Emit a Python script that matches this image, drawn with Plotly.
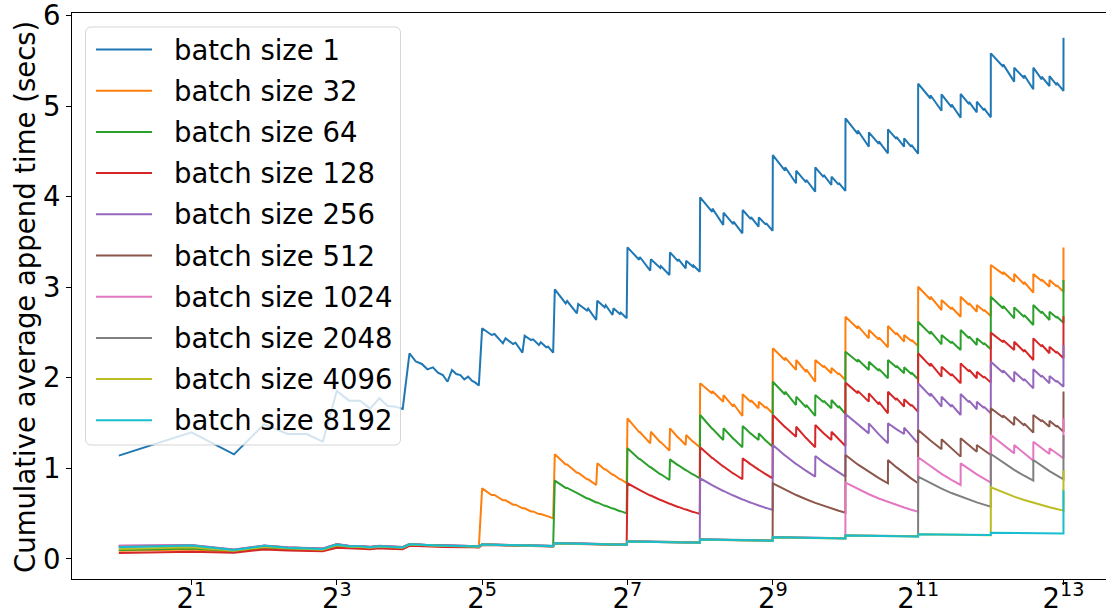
import plotly.graph_objects as go

# number of appends (x values)
n_appends = [1, 2, 3, 4, 5, 6, 7, 8, 9, 10, 11, 12, 13, 14, 15,
             16, 17, 18, 19, 20, 21, 22, 23, 24, 25, 26, 27, 28, 29, 30, 31,
             32, 35, 36, 39, 40, 43, 44, 47, 48, 51, 52, 55, 56, 59, 60, 63,
             64, 71, 72, 79, 80, 87, 88, 95, 96, 103, 104, 111, 112, 119, 120, 127,
             128, 143, 144, 159, 160, 175, 176, 191, 192, 207, 208, 223, 224, 239, 240, 255,
             256, 287, 288, 319, 320, 351, 352, 383, 384, 415, 416, 447, 448, 479, 480, 511,
             512, 575, 576, 639, 640, 703, 704, 767, 768, 831, 832, 895, 896, 959, 960, 1023,
             1024, 1151, 1152, 1279, 1280, 1407, 1408, 1535, 1536, 1663, 1664, 1791, 1792, 1919, 1920, 2047,
             2048, 2303, 2304, 2559, 2560, 2815, 2816, 3071, 3072, 3327, 3328, 3583, 3584, 3839, 3840, 4095,
             4096, 4607, 4608, 5119, 5120, 5631, 5632, 6143, 6144, 6655, 6656, 7167, 7168, 7679, 7680, 8191,
             8192]

batch_1 = [1.141, 1.398, 1.155, 1.487, 1.38, 1.38, 1.295, 1.855, 1.748, 1.748, 1.66, 1.774, 1.689, 1.682, 1.656,
           2.271, 2.18, 2.153, 2.094, 2.116, 2.057, 2.031, 1.957, 2.087, 2.042, 2.031, 1.983, 2.013, 1.968, 1.947, 1.914,
           2.547, 2.473, 2.484, 2.381, 2.436, 2.374, 2.388, 2.278, 2.465, 2.417, 2.425, 2.362, 2.392, 2.337, 2.344, 2.278,
           2.977, 2.822, 2.848, 2.712, 2.815, 2.742, 2.764, 2.639, 2.852, 2.779, 2.801, 2.694, 2.767, 2.705, 2.72, 2.657,
           3.441, 3.304, 3.334, 3.183, 3.309, 3.213, 3.233, 3.135, 3.386, 3.289, 3.31, 3.209, 3.293, 3.226, 3.241, 3.172,
           3.993, 3.831, 3.868, 3.687, 3.823, 3.698, 3.725, 3.596, 3.853, 3.752, 3.774, 3.669, 3.772, 3.691, 3.709, 3.624,
           4.46, 4.288, 4.325, 4.148, 4.287, 4.159, 4.187, 4.055, 4.324, 4.217, 4.24, 4.129, 4.221, 4.134, 4.153, 4.063,
           4.865, 4.693, 4.731, 4.552, 4.711, 4.583, 4.611, 4.479, 4.744, 4.638, 4.661, 4.552, 4.644, 4.551, 4.571, 4.475,
           5.248, 5.084, 5.12, 4.949, 5.13, 4.988, 5.019, 4.872, 5.134, 5.022, 5.046, 4.931, 5.049, 4.954, 4.975, 4.876,
           5.583, 5.435, 5.461, 5.27, 5.424, 5.307, 5.34, 5.186, 5.424, 5.296, 5.325, 5.222, 5.332, 5.233, 5.258, 5.167,
           5.755]

batch_32 = [0.09, 0.105, 0.08, 0.12, 0.105, 0.1, 0.09, 0.14, 0.125, 0.12, 0.115, 0.125, 0.12, 0.118, 0.115,
            0.15, 0.147, 0.145, 0.142, 0.143, 0.14, 0.138, 0.135, 0.138, 0.136, 0.135, 0.133, 0.134, 0.132, 0.131, 0.13,
            0.78, 0.707, 0.707, 0.648, 0.648, 0.599, 0.599, 0.559, 0.559, 0.525, 0.525, 0.496, 0.496, 0.471, 0.471, 0.449,
            1.156, 1.043, 1.043, 0.953, 0.953, 0.879, 0.879, 0.817, 1.056, 0.988, 0.988, 0.93, 0.93, 0.88, 0.88, 0.836,
            1.553, 1.401, 1.401, 1.277, 1.405, 1.29, 1.29, 1.196, 1.443, 1.342, 1.342, 1.259, 1.369, 1.294, 1.294, 1.233,
            1.94, 1.828, 1.852, 1.737, 1.81, 1.683, 1.711, 1.579, 1.818, 1.733, 1.752, 1.664, 1.737, 1.666, 1.681, 1.608,
            2.326, 2.195, 2.224, 2.087, 2.197, 2.065, 2.094, 1.957, 2.197, 2.116, 2.134, 2.05, 2.11, 2.036, 2.052, 1.976,
            2.675, 2.544, 2.573, 2.436, 2.528, 2.423, 2.446, 2.337, 2.572, 2.477, 2.498, 2.399, 2.473, 2.406, 2.421, 2.352,
            3.006, 2.865, 2.896, 2.749, 2.859, 2.758, 2.78, 2.675, 2.896, 2.805, 2.825, 2.73, 2.804, 2.737, 2.752, 2.683,
            3.246, 3.145, 3.167, 3.062, 3.146, 3.033, 3.058, 2.94, 3.146, 3.069, 3.086, 3.006, 3.08, 3.009, 3.024, 2.951,
            3.44]

batch_64 = [0.1, 0.115, 0.09, 0.13, 0.112, 0.108, 0.098, 0.145, 0.13, 0.128, 0.12, 0.128, 0.123, 0.122, 0.118,
            0.155, 0.15, 0.148, 0.145, 0.146, 0.143, 0.141, 0.138, 0.141, 0.139, 0.138, 0.136, 0.137, 0.135, 0.134, 0.133,
            0.158, 0.155, 0.155, 0.152, 0.152, 0.15, 0.15, 0.148, 0.148, 0.146, 0.146, 0.144, 0.144, 0.142, 0.142, 0.14,
            0.865, 0.785, 0.785, 0.721, 0.721, 0.668, 0.668, 0.624, 0.624, 0.587, 0.587, 0.556, 0.556, 0.528, 0.528, 0.504,
            1.222, 1.105, 1.105, 1.012, 1.012, 0.936, 0.936, 0.872, 1.1, 1.036, 1.036, 0.981, 0.981, 0.933, 0.933, 0.891,
            1.59, 1.438, 1.438, 1.314, 1.443, 1.328, 1.328, 1.233, 1.468, 1.383, 1.383, 1.314, 1.387, 1.306, 1.306, 1.24,
            1.957, 1.816, 1.847, 1.70, 1.792, 1.675, 1.701, 1.579, 1.81, 1.73, 1.747, 1.664, 1.755, 1.67, 1.689, 1.601,
            2.289, 2.178, 2.202, 2.087, 2.178, 2.077, 2.099, 1.995, 2.197, 2.116, 2.134, 2.05, 2.116, 2.043, 2.059, 1.984,
            2.62, 2.483, 2.513, 2.37, 2.473, 2.382, 2.402, 2.307, 2.528, 2.437, 2.457, 2.363, 2.436, 2.369, 2.384, 2.315,
            2.896, 2.765, 2.794, 2.657, 2.778, 2.671, 2.694, 2.583, 2.804, 2.713, 2.733, 2.639, 2.73, 2.663, 2.678, 2.609,
            3.08]

batch_128 = [0.065, 0.08, 0.07, 0.105, 0.095, 0.09, 0.085, 0.125, 0.115, 0.113, 0.108, 0.118, 0.113, 0.112, 0.108,
             0.145, 0.141, 0.139, 0.136, 0.137, 0.135, 0.133, 0.131, 0.134, 0.132, 0.131, 0.13, 0.131, 0.129, 0.128, 0.127,
             0.155, 0.152, 0.152, 0.15, 0.15, 0.148, 0.148, 0.146, 0.146, 0.144, 0.144, 0.142, 0.142, 0.14, 0.14, 0.138,
             0.17, 0.168, 0.168, 0.166, 0.166, 0.164, 0.164, 0.162, 0.162, 0.16, 0.16, 0.158, 0.158, 0.156, 0.156, 0.155,
             0.836, 0.761, 0.761, 0.70, 0.70, 0.651, 0.651, 0.61, 0.61, 0.575, 0.575, 0.545, 0.545, 0.52, 0.52, 0.497,
             1.233, 1.115, 1.115, 1.021, 1.021, 0.944, 0.944, 0.88, 1.112, 1.044, 1.044, 0.986, 0.986, 0.935, 0.935, 0.891,
             1.59, 1.458, 1.458, 1.35, 1.46, 1.335, 1.335, 1.233, 1.479, 1.388, 1.388, 1.314, 1.405, 1.319, 1.319, 1.248,
             1.947, 1.831, 1.856, 1.737, 1.829, 1.707, 1.734, 1.608, 1.847, 1.756, 1.776, 1.682, 1.763, 1.688, 1.704, 1.626,
             2.271, 2.129, 2.16, 2.013, 2.123, 2.022, 2.044, 1.94, 2.16, 2.069, 2.089, 1.995, 2.068, 2.001, 2.016, 1.947,
             2.499, 2.393, 2.416, 2.307, 2.399, 2.288, 2.312, 2.197, 2.436, 2.345, 2.365, 2.271, 2.344, 2.274, 2.289, 2.216,
             2.68]

batch_256 = [0.147, 0.155, 0.105, 0.148, 0.13, 0.125, 0.115, 0.165, 0.145, 0.143, 0.135, 0.145, 0.14, 0.139, 0.133,
             0.165, 0.16, 0.158, 0.154, 0.155, 0.152, 0.15, 0.147, 0.15, 0.148, 0.147, 0.145, 0.146, 0.144, 0.143, 0.141,
             0.162, 0.159, 0.159, 0.156, 0.156, 0.154, 0.154, 0.152, 0.152, 0.15, 0.15, 0.148, 0.148, 0.146, 0.146, 0.144,
             0.175, 0.173, 0.173, 0.171, 0.171, 0.169, 0.169, 0.167, 0.167, 0.165, 0.165, 0.163, 0.163, 0.161, 0.161, 0.16,
             0.195, 0.193, 0.193, 0.191, 0.191, 0.189, 0.189, 0.187, 0.187, 0.185, 0.185, 0.184, 0.184, 0.183, 0.183, 0.182,
             0.891, 0.813, 0.813, 0.751, 0.751, 0.70, 0.70, 0.658, 0.658, 0.622, 0.622, 0.591, 0.591, 0.564, 0.564, 0.541,
             1.259, 1.142, 1.142, 1.049, 1.049, 0.973, 0.973, 0.909, 1.137, 1.067, 1.067, 1.007, 1.007, 0.955, 0.955, 0.909,
             1.601, 1.483, 1.483, 1.387, 1.498, 1.376, 1.376, 1.277, 1.498, 1.433, 1.433, 1.38, 1.45, 1.355, 1.355, 1.277,
             1.94, 1.798, 1.829, 1.682, 1.792, 1.681, 1.705, 1.59, 1.822, 1.729, 1.749, 1.653, 1.737, 1.666, 1.681, 1.608,
             2.178, 2.056, 2.083, 1.957, 2.068, 1.967, 1.989, 1.884, 2.094, 2.009, 2.027, 1.94, 2.02, 1.955, 1.969, 1.902,
             2.36]

batch_512 = [0.14, 0.15, 0.1, 0.145, 0.127, 0.122, 0.112, 0.162, 0.142, 0.14, 0.132, 0.142, 0.137, 0.136, 0.13,
             0.163, 0.158, 0.156, 0.152, 0.153, 0.15, 0.148, 0.145, 0.148, 0.146, 0.145, 0.143, 0.144, 0.142, 0.141, 0.139,
             0.16, 0.157, 0.157, 0.154, 0.154, 0.152, 0.152, 0.15, 0.15, 0.148, 0.148, 0.146, 0.146, 0.144, 0.144, 0.142,
             0.173, 0.171, 0.171, 0.169, 0.169, 0.167, 0.167, 0.165, 0.165, 0.163, 0.163, 0.161, 0.161, 0.159, 0.159, 0.158,
             0.193, 0.191, 0.191, 0.189, 0.189, 0.187, 0.187, 0.185, 0.185, 0.183, 0.183, 0.182, 0.182, 0.181, 0.181, 0.18,
             0.214, 0.212, 0.212, 0.21, 0.21, 0.208, 0.208, 0.206, 0.206, 0.205, 0.205, 0.204, 0.204, 0.203, 0.203, 0.202,
             0.836, 0.764, 0.764, 0.706, 0.706, 0.659, 0.659, 0.619, 0.619, 0.586, 0.586, 0.557, 0.557, 0.533, 0.533, 0.511,
             1.148, 1.044, 1.044, 0.961, 0.961, 0.893, 0.893, 0.836, 1.093, 1.014, 1.014, 0.946, 0.946, 0.887, 0.887, 0.836,
             1.424, 1.307, 1.307, 1.211, 1.321, 1.216, 1.216, 1.13, 1.332, 1.251, 1.251, 1.185, 1.259, 1.198, 1.198, 1.148,
             1.664, 1.562, 1.584, 1.479, 1.571, 1.474, 1.495, 1.395, 1.59, 1.519, 1.534, 1.461, 1.527, 1.46, 1.475, 1.405,
             1.85]

batch_1024 = [0.145, 0.152, 0.102, 0.147, 0.128, 0.123, 0.113, 0.163, 0.143, 0.141, 0.133, 0.143, 0.138, 0.137, 0.131,
              0.164, 0.159, 0.157, 0.153, 0.154, 0.151, 0.149, 0.146, 0.149, 0.147, 0.146, 0.144, 0.145, 0.143, 0.142, 0.14,
              0.161, 0.158, 0.158, 0.155, 0.155, 0.153, 0.153, 0.151, 0.151, 0.149, 0.149, 0.147, 0.147, 0.145, 0.145, 0.143,
              0.174, 0.172, 0.172, 0.17, 0.17, 0.168, 0.168, 0.166, 0.166, 0.164, 0.164, 0.162, 0.162, 0.16, 0.16, 0.159,
              0.194, 0.192, 0.192, 0.19, 0.19, 0.188, 0.188, 0.186, 0.186, 0.184, 0.184, 0.183, 0.183, 0.182, 0.182, 0.181,
              0.215, 0.213, 0.213, 0.211, 0.211, 0.209, 0.209, 0.207, 0.207, 0.206, 0.206, 0.205, 0.205, 0.204, 0.204, 0.203,
              0.24, 0.238, 0.238, 0.236, 0.236, 0.234, 0.234, 0.232, 0.232, 0.231, 0.231, 0.23, 0.23, 0.229, 0.229, 0.228,
              0.843, 0.772, 0.772, 0.715, 0.715, 0.668, 0.668, 0.629, 0.629, 0.596, 0.596, 0.568, 0.568, 0.543, 0.543, 0.522,
              1.123, 1.021, 1.021, 0.939, 0.939, 0.873, 0.873, 0.817, 1.056, 0.99, 0.99, 0.934, 0.934, 0.886, 0.886, 0.843,
              1.369, 1.257, 1.257, 1.166, 1.259, 1.163, 1.163, 1.085, 1.295, 1.22, 1.22, 1.159, 1.222, 1.162, 1.162, 1.112,
              1.55]

batch_2048 = [0.135, 0.148, 0.1, 0.143, 0.125, 0.12, 0.11, 0.16, 0.14, 0.138, 0.13, 0.14, 0.135, 0.134, 0.129,
              0.164, 0.159, 0.157, 0.153, 0.154, 0.151, 0.149, 0.146, 0.149, 0.147, 0.146, 0.144, 0.145, 0.143, 0.142, 0.14,
              0.162, 0.159, 0.159, 0.156, 0.156, 0.154, 0.154, 0.152, 0.152, 0.15, 0.15, 0.148, 0.148, 0.146, 0.146, 0.144,
              0.176, 0.174, 0.174, 0.172, 0.172, 0.17, 0.17, 0.168, 0.168, 0.166, 0.166, 0.164, 0.164, 0.162, 0.162, 0.161,
              0.197, 0.195, 0.195, 0.193, 0.193, 0.191, 0.191, 0.189, 0.189, 0.187, 0.187, 0.186, 0.186, 0.185, 0.185, 0.184,
              0.217, 0.215, 0.215, 0.213, 0.213, 0.211, 0.211, 0.209, 0.209, 0.208, 0.208, 0.207, 0.207, 0.206, 0.206, 0.205,
              0.242, 0.24, 0.24, 0.238, 0.238, 0.236, 0.236, 0.234, 0.234, 0.233, 0.233, 0.232, 0.232, 0.231, 0.231, 0.23,
              0.262, 0.26, 0.26, 0.258, 0.258, 0.256, 0.256, 0.255, 0.255, 0.254, 0.254, 0.253, 0.253, 0.252, 0.252, 0.251,
              0.909, 0.836, 0.836, 0.777, 0.777, 0.728, 0.728, 0.688, 0.688, 0.654, 0.654, 0.625, 0.625, 0.6, 0.6, 0.578,
              1.159, 1.061, 1.061, 0.983, 0.983, 0.919, 0.919, 0.865, 1.093, 1.027, 1.027, 0.971, 0.971, 0.923, 0.923, 0.88,
              1.37]

batch_4096 = [0.11, 0.13, 0.09, 0.135, 0.118, 0.113, 0.103, 0.152, 0.135, 0.133, 0.125, 0.135, 0.13, 0.129, 0.124,
              0.16, 0.155, 0.153, 0.149, 0.15, 0.147, 0.145, 0.142, 0.145, 0.143, 0.142, 0.14, 0.141, 0.139, 0.138, 0.136,
              0.159, 0.156, 0.156, 0.153, 0.153, 0.151, 0.151, 0.149, 0.149, 0.147, 0.147, 0.145, 0.145, 0.143, 0.143, 0.141,
              0.172, 0.17, 0.17, 0.168, 0.168, 0.166, 0.166, 0.164, 0.164, 0.162, 0.162, 0.16, 0.16, 0.158, 0.158, 0.157,
              0.192, 0.19, 0.19, 0.188, 0.188, 0.186, 0.186, 0.184, 0.184, 0.182, 0.182, 0.181, 0.181, 0.18, 0.18, 0.179,
              0.213, 0.211, 0.211, 0.209, 0.209, 0.207, 0.207, 0.205, 0.205, 0.204, 0.204, 0.203, 0.203, 0.202, 0.202, 0.201,
              0.238, 0.236, 0.236, 0.234, 0.234, 0.232, 0.232, 0.23, 0.23, 0.229, 0.229, 0.228, 0.228, 0.227, 0.227, 0.226,
              0.258, 0.256, 0.256, 0.254, 0.254, 0.252, 0.252, 0.251, 0.251, 0.25, 0.25, 0.249, 0.249, 0.248, 0.248, 0.247,
              0.273, 0.271, 0.271, 0.27, 0.27, 0.268, 0.268, 0.267, 0.267, 0.266, 0.266, 0.265, 0.265, 0.264, 0.264, 0.263,
              0.791, 0.734, 0.734, 0.688, 0.688, 0.651, 0.651, 0.62, 0.62, 0.593, 0.593, 0.571, 0.571, 0.551, 0.551, 0.534,
              0.98]

batch_8192 = [0.13, 0.15, 0.1, 0.145, 0.125, 0.12, 0.11, 0.16, 0.14, 0.14, 0.13, 0.14, 0.135, 0.135, 0.128,
              0.163, 0.158, 0.156, 0.152, 0.152, 0.15, 0.148, 0.145, 0.148, 0.146, 0.145, 0.143, 0.143, 0.141, 0.14, 0.138,
              0.16, 0.157, 0.157, 0.154, 0.154, 0.152, 0.152, 0.15, 0.15, 0.148, 0.148, 0.146, 0.146, 0.144, 0.144, 0.142,
              0.173, 0.171, 0.171, 0.169, 0.169, 0.167, 0.167, 0.165, 0.165, 0.163, 0.163, 0.161, 0.161, 0.159, 0.159, 0.158,
              0.193, 0.191, 0.191, 0.189, 0.189, 0.187, 0.187, 0.185, 0.185, 0.183, 0.183, 0.182, 0.182, 0.181, 0.181, 0.18,
              0.214, 0.212, 0.212, 0.21, 0.21, 0.208, 0.208, 0.206, 0.206, 0.205, 0.205, 0.204, 0.204, 0.203, 0.203, 0.202,
              0.239, 0.237, 0.237, 0.235, 0.235, 0.233, 0.233, 0.231, 0.231, 0.23, 0.23, 0.229, 0.229, 0.228, 0.228, 0.227,
              0.259, 0.257, 0.257, 0.255, 0.255, 0.253, 0.253, 0.252, 0.252, 0.251, 0.251, 0.25, 0.25, 0.249, 0.249, 0.248,
              0.274, 0.272, 0.272, 0.271, 0.271, 0.269, 0.269, 0.268, 0.268, 0.267, 0.267, 0.266, 0.266, 0.265, 0.265, 0.264,
              0.29, 0.288, 0.288, 0.287, 0.287, 0.286, 0.286, 0.285, 0.285, 0.284, 0.284, 0.283, 0.283, 0.282, 0.282, 0.281,
              0.76]

series_names = ["batch size 1", "batch size 32", "batch size 64", "batch size 128", "batch size 256",
                "batch size 512", "batch size 1024", "batch size 2048", "batch size 4096", "batch size 8192"]
series_values = [batch_1, batch_32, batch_64, batch_128, batch_256,
                 batch_512, batch_1024, batch_2048, batch_4096, batch_8192]
colors = ["#1f77b4", "#ff7f0e", "#2ca02c", "#d62728", "#9467bd",
          "#8c564b", "#e377c2", "#7f7f7f", "#bcbd22", "#17becf"]

tick_vals = [2, 8, 32, 128, 512, 2048, 8192]
tick_text = ["2<sup>1</sup>", "2<sup>3</sup>", "2<sup>5</sup>", "2<sup>7</sup>",
             "2<sup>9</sup>", "2<sup>11</sup>", "2<sup>13</sup>"]
y_ticks = [0, 1, 2, 3, 4, 5, 6]

FONT = "DejaVu Sans"
FS = 27.5
W, H = 1106, 615
ML, MR, MT, MB = 72, 0, 13, 36
PW, PH = W - ML - MR, H - MT - MB


def px_x(px):
    return (px - ML) / PW


def px_y(py):
    return (H - MB - py) / PH


fig = go.Figure()
for name, ys, col in zip(series_names, series_values, colors):
    fig.add_trace(go.Scatter(x=n_appends, y=ys, mode="lines", name=name,
                             line=dict(color=col, width=2), showlegend=False))

# manual matplotlib-style legend
lx0, lx1, ly0, ly1, r = 85.5, 400.5, 27.0, 445.0, 6.0
rx, ry = r / PW, r / PH
X0, X1, Y0, Y1 = px_x(lx0), px_x(lx1), px_y(ly1), px_y(ly0)
path = (f"M {X0+rx},{Y0} L {X1-rx},{Y0} Q {X1},{Y0} {X1},{Y0+ry} "
        f"L {X1},{Y1-ry} Q {X1},{Y1} {X1-rx},{Y1} L {X0+rx},{Y1} "
        f"Q {X0},{Y1} {X0},{Y1-ry} L {X0},{Y0+ry} Q {X0},{Y0} {X0+rx},{Y0} Z")
shapes = [dict(type="path", path=path, xref="paper", yref="paper", layer="above",
               fillcolor="rgba(255,255,255,0.8)", line=dict(color="rgba(204,204,204,0.8)", width=1))]
annotations = []
for i, (name, col) in enumerate(zip(series_names, colors)):
    cy = 49.5 + 41.2 * i
    shapes.append(dict(type="line", xref="paper", yref="paper", layer="above",
                       x0=px_x(96), x1=px_x(152), y0=px_y(cy), y1=px_y(cy),
                       line=dict(color=col, width=2)))
    annotations.append(dict(text=name, x=px_x(172), y=px_y(cy), xref="paper", yref="paper",
                            xanchor="left", yanchor="middle", showarrow=False,
                            font=dict(family=FONT, size=FS, color="black")))

annotations.append(dict(text="Cumulative average append time (secs)", textangle=-90,
                        x=px_x(25), y=px_y(297), xref="paper", yref="paper",
                        xanchor="center", yanchor="middle", showarrow=False,
                        font=dict(family=FONT, size=FS, color="black")))

fig.update_layout(
    width=W, height=H,
    margin=dict(l=ML, r=MR, t=MT, b=MB, pad=0, autoexpand=False),
    paper_bgcolor="white", plot_bgcolor="white",
    font=dict(family=FONT, size=FS, color="black"),
    shapes=shapes, annotations=annotations,
    xaxis=dict(type="log", range=[-0.1939, 4.0895], tickvals=tick_vals, ticktext=tick_text,
               automargin=False, ticklabeloverflow="allow", ticklabelstandoff=-10,
               showgrid=False, zeroline=False, showline=True, linecolor="black", linewidth=1,
               mirror=True, ticks="outside", ticklen=5, tickwidth=1, tickcolor="black",
               tickfont=dict(family=FONT, size=FS, color="black")),
    yaxis=dict(range=[-0.221, 6.028], tickvals=y_ticks,
               automargin=False, ticklabeloverflow="allow",
               showgrid=False, zeroline=False, showline=True, linecolor="black", linewidth=1,
               ticks="outside", ticklen=5, tickwidth=1, tickcolor="black",
               tickfont=dict(family=FONT, size=FS, color="black")),
)

fig.write_html("out.html")
